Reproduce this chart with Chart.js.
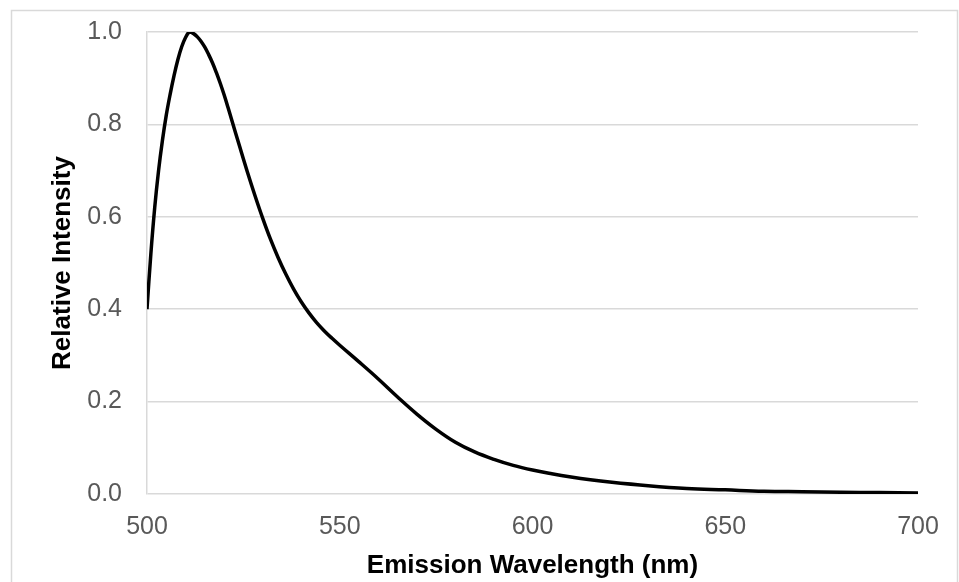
<!DOCTYPE html>
<html>
<head>
<meta charset="utf-8">
<script src="https://cdn.jsdelivr.net/npm/chart.js@4/dist/chart.umd.min.js"></script>
<style>
  html, body { margin: 0; padding: 0; background: #ffffff; }
  #wrap { width: 959px; height: 582px; position: relative; }
</style>
</head>
<body>
<div id="wrap"><canvas id="c" width="959" height="582"></canvas></div>
<script>
const wavelengths = [500,501,502,503,504,505,506,507,508,509,510,511,512,513,514,515,516,517,518,519,520,521,522,524,526,528,530,532,534,536,538,540,542,544,546,548,550,555,560,565,570,575,580,585,590,595,600,605,610,615,620,630,640,650,660,670,680,690,700];
const intensity = [0.40,0.52,0.62,0.70,0.765,0.82,0.865,0.905,0.94,0.968,0.988,1.0,0.997,0.99,0.98,0.967,0.951,0.933,0.912,0.889,0.864,0.837,0.809,0.753,0.698,0.646,0.597,0.552,0.512,0.476,0.444,0.416,0.392,0.371,0.353,0.337,0.322,0.286,0.249,0.21,0.173,0.14,0.112,0.091,0.075,0.062,0.052,0.044,0.037,0.031,0.026,0.018,0.012,0.009,0.006,0.005,0.004,0.003,0.002];
const xTicks = [500, 550, 600, 650, 700];
const yTicks = [0.0, 0.2, 0.4, 0.6, 0.8, 1.0];
const xTitle = 'Emission Wavelength (nm)';
const yTitle = 'Relative Intensity';

const points = wavelengths.map((w, i) => ({ x: w, y: intensity[i] }));

const frame = {
  id: 'frame',
  beforeDraw(chart) {
    const ctx = chart.ctx;
    ctx.save();
    ctx.fillStyle = '#ffffff';
    ctx.fillRect(0, 0, chart.width, chart.height);
    ctx.strokeStyle = '#d9d9d9';
    ctx.lineWidth = 1.5;
    ctx.strokeRect(11.5, 10.5, 946, 620);
    ctx.restore();
  }
};

new Chart(document.getElementById('c'), {
  type: 'line',
  data: {
    datasets: [{
      data: points,
      borderColor: '#000000',
      borderWidth: 3.5,
      pointRadius: 0,
      fill: false,
      tension: 0.4
    }]
  },
  options: {
    responsive: false,
    animation: false,
    devicePixelRatio: 1,
    layout: { padding: { top: 32, right: 41, left: 0, bottom: 0 } },
    plugins: { legend: { display: false }, tooltip: { enabled: false } },
    scales: {
      x: {
        type: 'linear',
        min: xTicks[0],
        max: xTicks[xTicks.length - 1],
        afterBuildTicks(scale) { scale.ticks = xTicks.map(v => ({ value: v })); },
        afterFit(scale) { scale.height = 88; },
        grid: { display: false, drawTicks: false },
        border: { display: false },
        ticks: {
          padding: 18,
          color: '#595959',
          font: { family: 'Liberation Sans, Arial, sans-serif', size: 25 },
          maxRotation: 0,
          callback: v => String(v)
        },
        title: {
          display: true,
          text: xTitle,
          color: '#000000',
          font: { family: 'Liberation Sans, Arial, sans-serif', size: 26, weight: 'bold' },
          padding: { top: 0, bottom: 1 }
        }
      },
      y: {
        type: 'linear',
        min: 0,
        max: 1,
        afterBuildTicks(scale) { scale.ticks = yTicks.map(v => ({ value: v })); },
        afterFit(scale) { scale.width = 147; scale.paddingTop = 0; scale.paddingBottom = 0; },
        grid: { color: '#d9d9d9', lineWidth: 1.5, drawTicks: false },
        border: { display: true, color: '#d9d9d9', width: 1.5 },
        ticks: {
          padding: 25,
          color: '#595959',
          font: { family: 'Liberation Sans, Arial, sans-serif', size: 25 },
          callback: v => Number(v).toFixed(1)
        },
        title: {
          display: true,
          text: yTitle,
          color: '#000000',
          font: { family: 'Liberation Sans, Arial, sans-serif', size: 26, weight: 'bold' },
          padding: { top: 47, bottom: 0 }
        }
      }
    }
  },
  plugins: [frame]
});
</script>
</body>
</html>
